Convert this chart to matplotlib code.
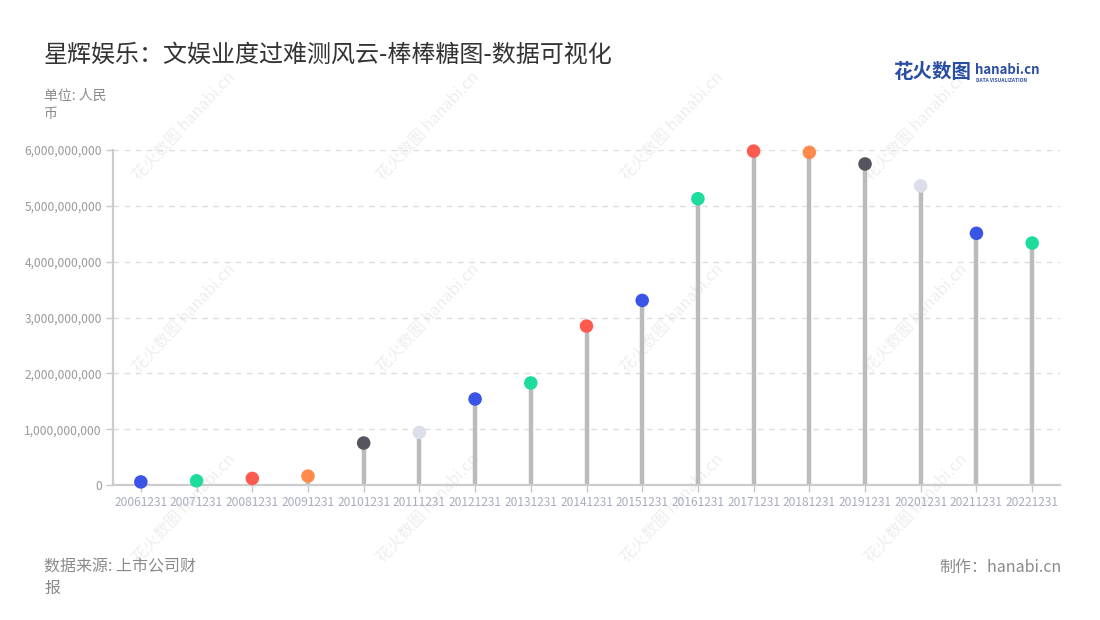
import matplotlib
matplotlib.use("Agg")
import matplotlib.pyplot as plt

plt.rcParams['font.family'] = ['Noto Sans CJK SC', 'DejaVu Sans']

# 年报日期与营业收入（人民币）
dates = ["20061231", "20071231", "20081231", "20091231", "20101231", "20111231",
         "20121231", "20131231", "20141231", "20151231", "20161231", "20171231",
         "20181231", "20191231", "20201231", "20211231", "20221231"]
revenue = [55e6, 75e6, 118e6, 160e6, 752e6, 940e6,
           1540e6, 1827e6, 2846e6, 3306e6, 5127e6, 5980e6,
           5958e6, 5750e6, 5358e6, 4508e6, 4334e6]
dot_colors = ["#3a55e6", "#1ddc9c", "#ff5a4f", "#ff8a4c", "#55555f", "#dcdfe9",
              "#3a55e6", "#1ddc9c", "#ff5a4f", "#3a55e6", "#1ddc9c", "#ff5a4f",
              "#ff8a4c", "#55555f", "#dcdfe9", "#3a55e6", "#1ddc9c"]
yticks = [0, 1e9, 2e9, 3e9, 4e9, 5e9, 6e9]

W, H = 1100, 620
fig = plt.figure(figsize=(W / 100, H / 100), dpi=100)
fig.patch.set_facecolor("white")

# watermark grid (drawn under the axes)
for cx in [184, 428, 672, 916]:
    for cy in [126, 318, 508]:
        fig.text(cx / W, 1 - cy / H, "花火数图 hanabi.cn", rotation=47,
                 ha="center", va="center", fontsize=11.5, color="#eeeeee",
                 zorder=-1)

ax = fig.add_axes([113 / W, 1 - 485 / H, (1060 - 113) / W, (485 - 150) / H])
ax.set_facecolor("none")

x = list(range(len(dates)))
ax.vlines(x, 0, revenue, color="#bbbbbb", linewidth=3.2, zorder=2)
ax.scatter(x, revenue, s=95, c=dot_colors, zorder=3, clip_on=False, linewidths=0)

ax.set_xlim(-0.5, len(dates) - 0.5)
ax.set_ylim(0, 6e9)
ax.set_xticks(x)
ax.set_xticklabels(dates)
ax.set_yticks(yticks)
ax.set_yticklabels([f"{v:,.0f}" for v in yticks])
ax.tick_params(axis="x", colors="#c8c8c8", labelcolor="#a8adbb", labelsize=8.6,
               length=5, width=1, pad=3)
ax.tick_params(axis="y", colors="#c8c8c8", labelcolor="#999999", labelsize=8.6,
               length=5, width=1, pad=3)

ax.grid(axis="y", linestyle=(0, (4, 4)), color="#dddddd", linewidth=1)
ax.set_axisbelow(True)
for s in ["top", "right"]:
    ax.spines[s].set_visible(False)
for s in ["left", "bottom"]:
    ax.spines[s].set_color("#cccccc")
    ax.spines[s].set_linewidth(1.6)

# 标题与注释
fig.text(44 / W, 1 - 55 / H, "星辉娱乐：文娱业度过难测风云-棒棒糖图-数据可视化",
         fontsize=17.3, color="#333333", va="center", ha="left")
fig.text(44 / W, 1 - 96 / H, "单位: 人民", fontsize=10, color="#8a8a8a", va="center")
fig.text(44 / W, 1 - 114 / H, "币", fontsize=10, color="#8a8a8a", va="center")
fig.text(44 / W, 1 - 567 / H, "数据来源: 上市公司财", fontsize=11.5, color="#8a8a8a", va="center")
fig.text(44 / W, 1 - 588 / H, "报", fontsize=11.5, color="#8a8a8a", va="center")
fig.text(1062 / W, 1 - 567 / H, "制作：hanabi.cn", fontsize=11.5, color="#8a8a8a",
         va="center", ha="right")

# logo
fig.text(893 / W, 1 - 72 / H, "花火数图", fontsize=14, color="#2a4ea3",
         fontweight="bold", va="center", ha="left")
fig.text(975 / W, 1 - 70 / H, "hanabi.cn", fontsize=9.5, color="#2a4ea3",
         fontweight="bold", va="center", ha="left")
fig.text(976 / W, 1 - 80 / H, "DATA VISUALIZATION", fontsize=3.5, color="#2a4ea3",
         fontweight="bold", va="center", ha="left")

fig.savefig("out.png", dpi=100)
